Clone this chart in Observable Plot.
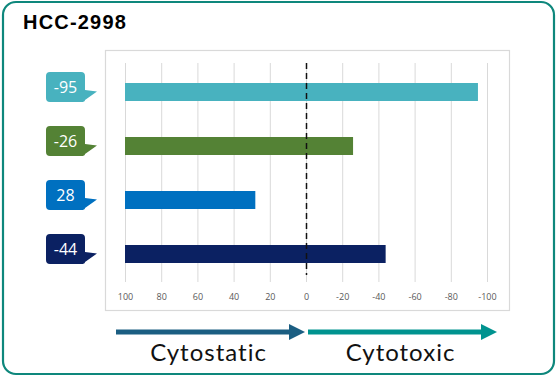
<!DOCTYPE html>
<html><head><meta charset="utf-8">
<script src="https://cdn.jsdelivr.net/npm/d3@7"></script>
<script src="https://cdn.jsdelivr.net/npm/@observablehq/plot@0.6"></script>
<style>
body{margin:0;background:#fff;}
#chart{width:558px;height:378px;}
</style></head><body><div id="chart"></div>
<script>
const title = "HCC-2998";
const categories = ["r1","r2","r3","r4"];
const values = [-95, -26, 28, -44];
const colors = ["#48B2BF", "#548235", "#0070C0", "#0B2162"];
const xTicks = [100, 80, 60, 40, 20, 0, -20, -40, -60, -80, -100];
const baseValue = 100;
const arrowLabels = ["Cytostatic", "Cytotoxic"];
const arrowColors = ["#1B5E82", "#00938F"];
const arrowSpans = [[100, 0], [0, -100]];

const data = categories.map((c, i) => ({cat: c, value: values[i], color: colors[i]}));

const plot = Plot.plot({
  width: 558, height: 378,
  marginLeft: 125, marginRight: 71, marginTop: 63, marginBottom: 96,
  style: {fontFamily: "'Open Sans', sans-serif", background: "transparent"},
  x: {domain: [100, -100], label: null, ticks: xTicks},
  y: {domain: categories, paddingInner: 0.67, paddingOuter: 0.33, axis: null},
  marks: [
    Plot.frame({stroke: "#d9d9d9", strokeWidth: 1.2, insetLeft: -20, insetRight: -22, insetTop: -13, insetBottom: -28}),
    Plot.ruleX(xTicks, {stroke: "#d9d9d9", strokeWidth: 1}),
    Plot.axisX(xTicks, {tickSize: 0, tickPadding: 11, fontSize: 9, fill: "#595959", tickFormat: d => String(d), label: null}),
    Plot.barX(data, {x1: baseValue, x2: "value", y: "cat", fill: "color"}),
    Plot.ruleX([0], {stroke: "#111", strokeWidth: 1.5, strokeDasharray: "6,4", insetBottom: 7})
  ]
});
document.getElementById("chart").appendChild(plot);

const svg = d3.select(plot);
const sx = plot.scale("x"), sy = plot.scale("y");
const bw = sy.bandwidth;

// outer rounded border
svg.insert("rect", ":first-child")
  .attr("x", 3).attr("y", 2).attr("width", 551).attr("height", 372).attr("rx", 13)
  .attr("fill", "#fff").attr("stroke", "#0E877C").attr("stroke-width", 2.2);

// title
svg.append("text").attr("x", 23).attr("y", 29).attr("text-anchor", "start")
  .attr("font-family", "'Liberation Sans', Arial, sans-serif").attr("font-weight", "bold")
  .attr("font-size", 20).attr("letter-spacing", 1.2).attr("fill", "#000").text(title);

// callouts
const cg = svg.append("g");
data.forEach(d => {
  const cy = sy.apply(d.cat) + bw / 2;
  const l = 46, r = 85, t = cy - 20, b = cy + 10, rr = 4;
  const path = `M${l+rr},${t} H${r-rr} Q${r},${t} ${r},${t+rr} V${cy-2} L${r+12},${cy-0.5} L${r},${b-2} Q${r},${b} ${r-rr},${b} H${l+rr} Q${l},${b} ${l},${b-rr} V${t+rr} Q${l},${t} ${l+rr},${t} Z`;
  cg.append("path").attr("d", path).attr("fill", d.color);
  cg.append("text").attr("x", (l + r) / 2).attr("y", cy - 5).attr("dy", "0.35em")
    .attr("text-anchor", "middle").attr("font-family", "'Open Sans', sans-serif")
    .attr("font-size", 16).attr("fill", "#fff").text(String(d.value));
});

// arrows
const ag = svg.append("g");
arrowSpans.forEach(([a, b], i) => {
  const x0 = sx.apply(a) + (i === 0 ? -9 : 2);
  const x1 = sx.apply(b) + (i === 0 ? -1 : 10);
  const y = 332, h = 2.5, hl = 16, hh = 8;
  ag.append("path")
    .attr("d", `M${x0},${y-h} H${x1-hl} V${y-hh} L${x1},${y} L${x1-hl},${y+hh} V${y+h} H${x0} Z`)
    .attr("fill", arrowColors[i]);
  ag.append("text").attr("x", (x0 + x1) / 2 - 2).attr("y", 361)
    .attr("text-anchor", "middle").attr("font-family", "Lato, sans-serif")
    .attr("font-size", 24).attr("letter-spacing", 1).attr("fill", "#111").text(arrowLabels[i]);
});
</script></body></html>
